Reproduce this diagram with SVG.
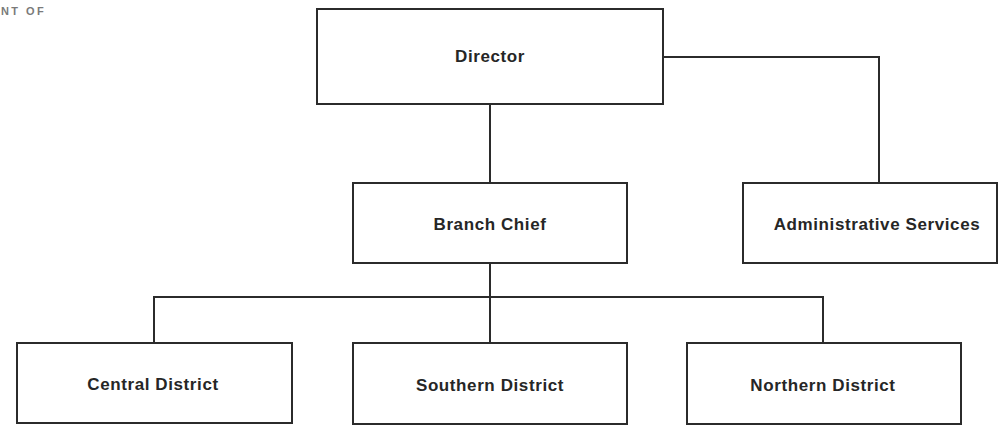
<svg xmlns="http://www.w3.org/2000/svg" width="998" height="427" viewBox="0 0 998 427">
  <style>
    .box { fill: #ffffff; stroke: #2b2b2b; stroke-width: 2; }
    .link { fill: none; stroke: #2b2b2b; stroke-width: 2; }
    .label { font-family: "Liberation Sans", Arial, sans-serif; font-weight: bold; font-size: 17px; letter-spacing: 0.6px; fill: #262626; text-anchor: middle; }
    .header { font-family: "Liberation Sans", Arial, sans-serif; font-weight: bold; font-size: 11px; letter-spacing: 2.4px; fill: #7a7a7a; }
  </style>
  <rect x="0" y="0" width="998" height="427" fill="#ffffff"/>

  <text class="header" x="1" y="15">NT OF</text>

  <g id="connectors">
    <path class="link" d="M490 104 V183"/>
    <path class="link" d="M663 57 H879 V183"/>
    <path class="link" d="M490 263 V343"/>
    <path class="link" d="M154 343 V297 H823 V343"/>
  </g>

  <g id="director">
    <rect class="box" x="317" y="9" width="346" height="95"/>
    <text class="label" x="490" y="62">Director</text>
  </g>

  <g id="branch-chief">
    <rect class="box" x="353" y="183" width="274" height="80"/>
    <text class="label" x="490" y="230">Branch Chief</text>
  </g>

  <g id="administrative-services">
    <rect class="box" x="743" y="183" width="254" height="80"/>
    <text class="label" x="877" y="230">Administrative Services</text>
  </g>

  <g id="central-district">
    <rect class="box" x="17" y="343" width="275" height="80"/>
    <text class="label" x="153" y="390">Central District</text>
  </g>

  <g id="southern-district">
    <rect class="box" x="353" y="343" width="274" height="81"/>
    <text class="label" x="490" y="391">Southern District</text>
  </g>

  <g id="northern-district">
    <rect class="box" x="687" y="343" width="274" height="81"/>
    <text class="label" x="823" y="391">Northern District</text>
  </g>
</svg>
